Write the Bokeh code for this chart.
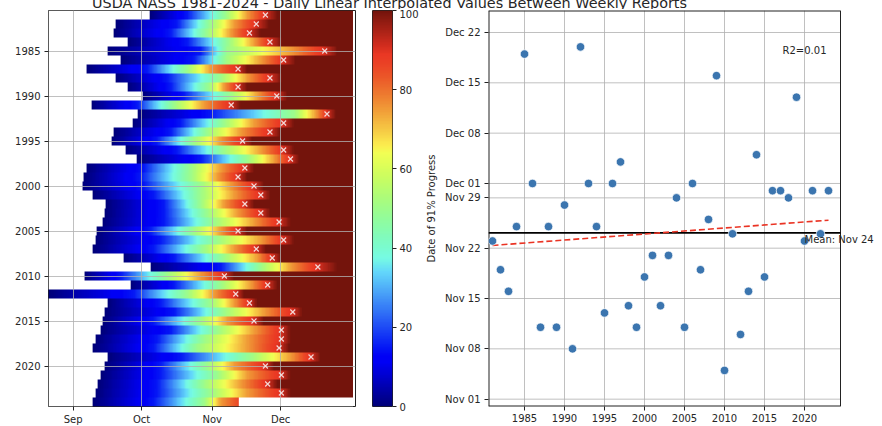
import numpy as np
from bokeh.plotting import figure
from bokeh.models import Range1d, FixedTicker, Label, LinearColorMapper, CustomJSTickFormatter
from bokeh.layouts import row, column
from bokeh.embed import file_html
from bokeh.resources import INLINE

# ---------------- data ----------------
years = list(range(1981, 2025))
# heatmap key points, days after Sep 1 (Sep 1 = 0, Oct 1 = 30, Nov 1 = 61, Dec 1 = 91)
start_day = [33.6, 18.6, 17.8, 23.7, 14.9, 20.8, 5.8, 18.6, 23.7, 30.3,
             7.9, 28.1, 25.9, 17.8, 16.7, 23.0, 27.8, 5.8, 4.7, 3.9,
             8.6, 14.2, 13.9, 12.7, 10.5, 9.8, 8.8, 21.9, 33.9, 5.0,
             24.9, -10.8, 14.9, 13.9, 13.0, 12.0, 9.8, 8.8, 14.9, 13.9,
             12.0, 10.8, 9.8, 8.8]
day_15pct = [50.0, 45.6, 42.7, 50.0, 55.8, 52.9, 32.5, 41.2, 42.7, 48.5,
             28.1, 60.2, 47.1, 42.7, 36.8, 45.6, 55.8, 31.0, 29.5, 31.0,
             35.4, 39.8, 39.8, 39.8, 33.9, 38.3, 35.4, 44.2, 64.6, 20.8,
             44.2, 26.6, 38.3, 44.2, 35.4, 42.7, 36.8, 35.4, 47.1, 38.3,
             38.3, 36.8, 36.8, 35.4]
day_50pct = [66.8, 60.2, 58.8, 68.3, 67.5, 66.8, 50.0, 64.6, 59.5, 69.0,
             44.2, 96.8, 66.1, 58.8, 52.9, 66.1, 76.3, 51.5, 51.5, 55.8,
             55.8, 55.8, 58.8, 61.7, 52.9, 63.2, 57.3, 66.1, 82.2, 41.2,
             64.6, 50.0, 60.2, 66.1, 55.8, 63.2, 57.3, 54.4, 77.8, 58.8,
             63.2, 57.3, 60.2, 57.3]
day_75pct = [76.3, 70.5, 69.0, 79.2, 95.3, 82.2, 60.2, 76.3, 66.1, 80.7,
             57.3, 106.3, 79.2, 73.4, 64.6, 82.2, 88.0, 64.6, 63.2, 69.0,
             70.5, 66.1, 71.9, 79.2, 64.6, 82.2, 70.5, 80.7, 95.3, 55.8,
             77.8, 61.7, 70.5, 83.6, 67.5, 79.2, 76.3, 76.3, 95.3, 70.5,
             76.3, 73.4, 76.3, 64.6]
day_100pct = [89.5, 85.8, 82.2, 91.7, 115.8, 97.5, 76.3, 91.7, 76.3, 93.9,
              73.4, 115.1, 96.8, 90.9, 78.5, 96.8, 99.0, 79.2, 76.3, 83.6,
              86.5, 79.2, 86.5, 95.3, 76.3, 96.8, 84.4, 91.0, 115.8, 70.5,
              89.5, 74.9, 80.7, 100.4, 83.6, 95.3, 95.3, 94.6, 108.5, 88.0,
              95.3, 89.5, 95.3, float("nan")]
last_report_2024 = (72.7, 86.0)   # (day after Sep 1, percent) - season incomplete
season_end_day = 122.6

# date of 91% progress, 1981-2023
years91 = list(range(1981, 2024))
date91 = ["Nov 23", "Nov 19", "Nov 16", "Nov 25", "Dec 19", "Dec 01", "Nov 11", "Nov 25", "Nov 11", "Nov 28",
          "Nov 08", "Dec 20", "Dec 01", "Nov 25", "Nov 13", "Dec 01", "Dec 04", "Nov 14", "Nov 11", "Nov 18",
          "Nov 21", "Nov 14", "Nov 21", "Nov 29", "Nov 11", "Dec 01", "Nov 19", "Nov 26", "Dec 16", "Nov 05",
          "Nov 24", "Nov 10", "Nov 16", "Dec 05", "Nov 18", "Nov 30", "Nov 30", "Nov 29", "Dec 13", "Nov 23",
          "Nov 30", "Nov 24", "Nov 30"]

month_ticks = [0, 30, 61, 91]
month_labels = ["Sep", "Oct", "Nov", "Dec"]
date_ticks = [0, 7, 14, 21, 28, 30, 37, 44, 51]   # days after Nov 1
date_labels = ["Nov 01", "Nov 08", "Nov 15", "Nov 22", "Nov 29", "Dec 01", "Dec 08", "Dec 15", "Dec 22"]
year_ticks = list(range(1985, 2021, 5))
cbar_ticks = [0, 20, 40, 60, 80, 100]
TITLE = "USDA NASS 1981-2024 - Daily Linear Interpolated Values Between Weekly Reports"

# ---------------- helpers ----------------
FONT = "DejaVu Sans"
TXT = "#262626"
SPINE = "#222222"
GRID = "#b0b0b0"
X_SHIFT = 1.3  # marker placement of the 91% date on the heatmap

_M = np.array([[0.8225, 0.1774, 0.0000],
               [0.0332, 0.9669, 0.0000],
               [0.0171, 0.0724, 0.9108]])


def shade(rgb):
    """Colour rendering as seen in the reference picture (wide-gamut reinterpretation)."""
    c = np.asarray(rgb, dtype=float)
    lin = np.where(c <= 0.04045, c / 12.92, ((c + 0.055) / 1.055) ** 2.4)
    out = np.clip(_M @ lin, 0, 1)
    enc = np.where(out <= 0.0031308, out * 12.92, 1.055 * out ** (1 / 2.4) - 0.055)
    return "#%02x%02x%02x" % tuple(int(round(v * 255)) for v in enc)


def hex_shade(h):
    h = h.lstrip("#")
    return shade([int(h[i:i + 2], 16) / 255 for i in (0, 2, 4)])


def jet(n=256):
    t = np.linspace(0, 1, n)
    r = np.interp(t, [0, 0.35, 0.66, 0.89, 1], [0, 0, 1, 1, 0.5])
    g = np.interp(t, [0, 0.125, 0.375, 0.64, 0.91, 1], [0, 0, 1, 1, 0, 0])
    b = np.interp(t, [0, 0.11, 0.34, 0.65, 1], [0.5, 1, 1, 0, 0])
    return [shade([a, c, e]) for a, c, e in zip(r, g, b)]


def style(p):
    p.outline_line_color = SPINE
    p.outline_line_width = 1
    p.background_fill_color = "white"
    p.border_fill_color = "white"
    for ax in p.axis:
        ax.axis_line_color = None
        ax.major_tick_line_color = SPINE
        ax.major_tick_out = 4
        ax.major_tick_in = 0
        ax.minor_tick_line_color = None
        ax.major_label_text_font = FONT
        ax.major_label_text_font_size = "10px"
        ax.major_label_text_color = TXT
        ax.major_label_standoff = 3
        ax.axis_label_text_font = FONT
        ax.axis_label_text_font_size = "10px"
        ax.axis_label_text_font_style = "normal"
        ax.axis_label_text_color = TXT
    for g in p.grid:
        g.grid_line_color = GRID
        g.grid_line_width = 0.8


cmap = LinearColorMapper(palette=jet(), low=0, high=100, nan_color="white")
offs91 = [(0 if s.split()[0] == "Nov" else 30) + int(s.split()[1]) - 1 for s in date91]
off_by_year = dict(zip(years91, offs91))

# ---------------- title strip ----------------
pT = figure(frame_width=866, frame_height=15, x_range=Range1d(8, 874), y_range=Range1d(9, -6),
            min_border_left=0, min_border_right=0, min_border_top=0, min_border_bottom=0,
            x_axis_location=None, y_axis_location=None, output_backend="svg", toolbar_location=None)
pT.outline_line_color = None
pT.grid.visible = False
pT.add_layout(Label(x=389, y=2.7, text=TITLE, text_align="center", text_baseline="alphabetic",
                    text_font=FONT, text_font_size="14.4px", text_color=TXT))

# ---------------- heatmap ----------------
step = 0.25
x_first = min(start_day)
ncol = int(round((season_end_day - x_first) / step))
xc = x_first + (np.arange(ncol) + 0.5) * step
rows = []
for i, yr in enumerate(years):
    if yr in off_by_year:
        d91 = 61 + off_by_year[yr] + X_SHIFT
        kx = [start_day[i], day_15pct[i], day_50pct[i], day_75pct[i], d91, day_100pct[i]]
        kv = [0, 15, 50, 75, 91, 100]
        end = season_end_day
    else:
        kx = [start_day[i], day_15pct[i], day_50pct[i], day_75pct[i], last_report_2024[0]]
        kv = [0, 15, 50, 75, last_report_2024[1]]
        end = last_report_2024[0]
    v = np.interp(xc, kx, kv)
    v[(xc < start_day[i]) | (xc > end)] = np.nan
    rows.append(v)
arr = np.array(rows[::-1])

pA = figure(frame_width=307, frame_height=396,
            x_range=Range1d(-10.8, 123.8), y_range=Range1d(-2024.5, -1980.5),
            min_border_left=40, min_border_right=5, min_border_top=1, min_border_bottom=22,
            output_backend="svg", toolbar_location=None)
pA.image(image=[arr], x=x_first, y=-2024.5, dw=ncol * step, dh=len(years),
         color_mapper=cmap, level="image")
pA.scatter([61 + o + X_SHIFT for o in offs91], [-y for y in years91], marker="x", size=7,
           line_color="#f8eaea", line_width=1.2, line_alpha=0.9)
pA.xaxis.ticker = FixedTicker(ticks=month_ticks)
pA.xaxis.major_label_overrides = dict(zip(month_ticks, month_labels))
pA.yaxis.ticker = FixedTicker(ticks=[-y for y in year_ticks])
pA.yaxis.formatter = CustomJSTickFormatter(code="return (-tick).toFixed(0);")
style(pA)
pA.yaxis.major_label_standoff = 4

# ---------------- colorbar ----------------
pB = figure(frame_width=20, frame_height=396, x_range=Range1d(0, 1), y_range=Range1d(0, 100),
            min_border_left=12, min_border_right=28, min_border_top=1, min_border_bottom=22,
            x_axis_location=None, y_axis_location="right",
            output_backend="svg", toolbar_location=None)
pB.image(image=[np.linspace(0, 100, 256).reshape(256, 1)], x=0, y=0, dw=1, dh=100, color_mapper=cmap)
pB.yaxis.ticker = FixedTicker(ticks=cbar_ticks)
style(pB)
pB.grid.visible = False

# ---------------- scatter ----------------
yrs = np.array(years91, dtype=float)
offs = np.array(offs91, dtype=float)
slope, icpt = np.polyfit(yrs, offs, 1)
r2 = np.corrcoef(yrs, offs)[0, 1] ** 2
mean_off = offs.mean()
mean_day = int(round(mean_off)) + 1
mean_txt = ("Nov %02d" % mean_day) if mean_day <= 30 else ("Dec %02d" % (mean_day - 30))

X0, X1 = 1980.5, 2024.5          # axes limits (years)
Y0, Y1 = -1.02, 54.06            # axes limits (days after Nov 1)
# the drawing area continues 35 px past the right spine so the mean label can overhang it
pC = figure(frame_width=387, frame_height=396,
            x_range=Range1d(X0, X0 + 387 / 8.0), y_range=Range1d(Y0, Y1),
            min_border_left=67, min_border_right=0, min_border_top=1, min_border_bottom=22,
            output_backend="svg", toolbar_location=None)
style(pC)
pC.outline_line_color = None
pC.ygrid.visible = False
# horizontal grid lines, limited to the axes box
pC.segment(x0=[X0] * len(date_ticks), y0=date_ticks, x1=[X1] * len(date_ticks), y1=date_ticks,
           line_color=GRID, line_width=0.8)
# axes box (spines)
pC.segment(x0=[X0, X0, X0], y0=[Y0, Y1, Y0], x1=[X1, X1, X0], y1=[Y0, Y1, Y1],
           line_color=SPINE, line_width=2)
pC.segment(x0=[X1], y0=[Y0], x1=[X1], y1=[Y1], line_color=SPINE, line_width=1)
# mean line
pC.segment(x0=[X0], y0=[mean_off], x1=[X1], y1=[mean_off], line_color="black", line_width=1.8)
xl = np.array([yrs.min(), yrs.max()])
pC.line(xl, slope * xl + icpt, line_color=hex_shade("#ff0000"), line_dash="6 3", line_width=1.6)
pC.scatter(years91, offs91, size=8.5, fill_color=hex_shade("#1f77b4"), line_color="white", line_width=0.7)
pC.add_layout(Label(x=2022.75, y=Y0 + (406 - 50) / 7.19, text="R2=%.2f" % r2,
                    text_align="right", text_baseline="alphabetic",
                    text_font=FONT, text_font_size="10px", text_color=TXT))
pC.add_layout(Label(x=2020, y=mean_off, y_offset=-7, text="Mean: " + mean_txt,
                    text_align="left", text_baseline="alphabetic",
                    text_font=FONT, text_font_size="10px", text_color=TXT))
pC.xaxis.ticker = FixedTicker(ticks=year_ticks)
pC.yaxis.ticker = FixedTicker(ticks=date_ticks)
pC.yaxis.major_label_overrides = dict(zip(date_ticks, date_labels))
pC.yaxis.axis_label = "Date of 91% Progress"
pC.yaxis.major_label_standoff = 4
pC.yaxis.axis_label_standoff = 5

layout = column(pT, row(pA, pB, pC),
                styles={"margin-top": "-6px", "margin-left": "8px", "margin-bottom": "-10px"})
open("out.html", "w").write(file_html(layout, INLINE))
